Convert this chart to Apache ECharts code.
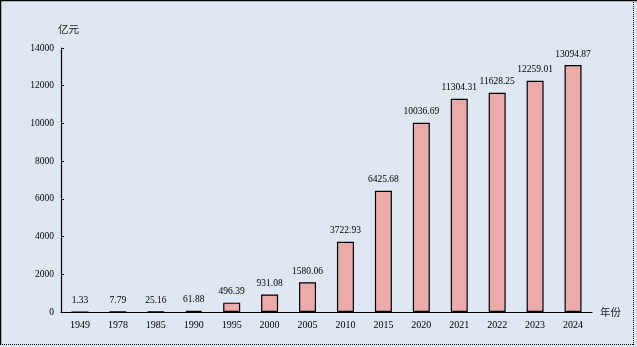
<!DOCTYPE html>
<html><head><meta charset="utf-8">
<script src="https://cdn.jsdelivr.net/npm/echarts@6/dist/echarts.min.js"></script>
<style>html,body{margin:0;padding:0;}#c{width:637px;height:347px;}</style>
</head><body><div id="c"></div>
<script>
const categories = ['1949','1978','1985','1990','1995','2000','2005','2010','2015','2020','2021','2022','2023','2024'];
const values = [1.33,7.79,25.16,61.88,496.39,931.08,1580.06,3722.93,6425.68,10036.69,11304.31,11628.25,12259.01,13094.87];
const yTicks = [0,2000,4000,6000,8000,10000,12000,14000];

const chart = echarts.init(document.getElementById('c'), null, {renderer:'canvas'});
const serif = '"Liberation Serif","Times New Roman",serif';
chart.setOption({
  animation:false,
  backgroundColor:'#dfe6f4',
  grid:{left:61,right:45,top:48,bottom:35,containLabel:false},
  xAxis:{
    type:'category', data:categories,
    name:'年份', nameLocation:'end', nameGap:8,
    nameTextStyle:{fontFamily:'"Noto Sans CJK SC"',fontSize:10.5,color:'#222',verticalAlign:'middle'},
    axisLine:{lineStyle:{color:'#000',width:1.2}},
    axisTick:{inside:true,length:3,alignWithLabel:false,lineStyle:{color:'#000'}},
    axisLabel:{fontFamily:serif,fontSize:10,color:'#000',margin:8}
  },
  yAxis:{
    type:'value', min:yTicks[0], max:yTicks[yTicks.length-1], interval:2000,
    name:'亿元', nameLocation:'end', nameGap:14,
    nameTextStyle:{fontFamily:'"Noto Sans CJK SC"',fontSize:10.5,color:'#222',align:'left',padding:[0,0,0,-3]},
    axisLine:{show:true,lineStyle:{color:'#000',width:1.2}},
    axisTick:{show:true,inside:true,length:3,lineStyle:{color:'#000'}},
    splitLine:{show:false},
    axisLabel:{fontFamily:serif,fontSize:9.5,color:'#000',margin:7,formatter:function(v){return String(v);}}
  },
  series:[{
    type:'bar', data:values, barWidth:17,
    itemStyle:{color:'#ebabaa',borderColor:'#000',borderWidth:1.2},
    label:{show:true,position:'top',distance:6,fontFamily:serif,fontSize:9.5,color:'#000'}
  }],
  graphic:[
    {type:'line',shape:{x1:0,y1:0.5,x2:637,y2:0.5},style:{stroke:'#000',lineWidth:1.5}},
    {type:'line',shape:{x1:0.5,y1:0,x2:0.5,y2:345},style:{stroke:'#000',lineWidth:1.5}},
    {type:'line',shape:{x1:0,y1:344.5,x2:634,y2:344.5},style:{stroke:'#000',lineWidth:1,lineDash:[1,1]}},
    {type:'line',shape:{x1:633.5,y1:0,x2:633.5,y2:345},style:{stroke:'#000',lineWidth:1,lineDash:[1,1]}}
  ]
});
</script></body></html>
